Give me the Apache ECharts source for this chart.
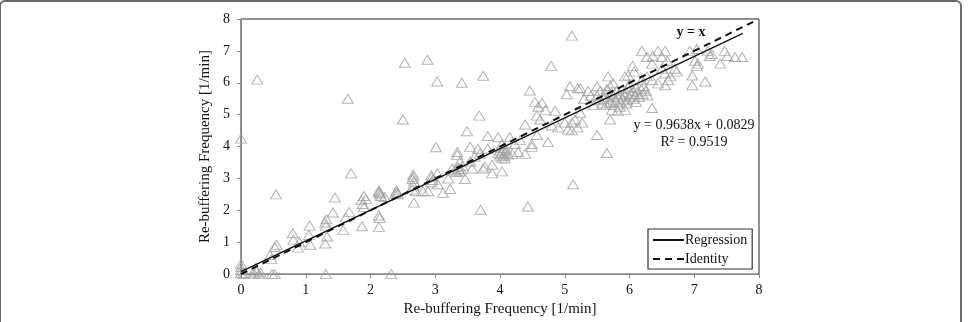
<!DOCTYPE html>
<html>
<head>
<meta charset="utf-8">
<script src="https://cdn.jsdelivr.net/npm/echarts@6/dist/echarts.min.js"></script>
<style>
  html, body { margin: 0; padding: 0; background: #fff; }
  #container { width: 974px; height: 322px; }
</style>
</head>
<body>
<div id="container"></div>
<script>
var dom = document.getElementById("container");
var myChart = echarts.init(dom);
var option;

var serif = "'Liberation Serif', 'Times New Roman', serif";

var samples = [
    [0,0.32],[0,0.22],[0,0.12],[0,0.03],[0.03,0],[0.06,0.02],[0,4.25],[0.25,6.1],
    [0.2,0.02],[0.24,0.08],[0.28,0],[0.22,0.18],[0.3,0.05],
    [0.48,0],[0.52,0],[0.45,0.6],[0.47,0.47],[0.52,0.85],[0.55,0.92],[0.54,2.5],
    [0.8,1.28],[0.81,1.08],[0.88,0.83],[0.9,1.0],
    [1.06,1.52],[1.05,1.23],[1.07,0.92],
    [1.32,1.72],[1.3,1.62],[1.31,1.52],[1.33,1.18],[1.3,0.96],[1.31,0],
    [1.45,2.4],[1.42,1.93],[1.62,1.78],[1.58,1.38],[1.67,1.95],[1.7,3.16],[1.65,5.5],
    [1.86,2.32],[1.9,2.45],[1.88,2.2],[1.9,2.1],[1.87,1.5],[1.93,2.36],
    [2.13,2.62],[2.14,2.55],[2.15,2.5],[2.16,2.45],[2.13,2.58],[2.13,1.84],[2.14,1.76],[2.13,1.48],[2.22,2.42],[2.32,0],
    [2.4,2.62],[2.41,2.56],[2.42,2.5],[2.38,2.52],[2.5,4.85],[2.53,6.63],
    [2.66,3.12],[2.66,3.05],[2.65,2.98],[2.67,2.9],[2.66,2.78],[2.65,2.65],[2.67,2.24],[2.7,2.6],
    [2.94,3.1],[2.95,3.04],[2.96,2.95],[2.94,2.88],[2.81,2.6],[2.89,2.6],[2.88,6.72],[3.01,3.98],
    [3.03,3.16],[3.04,2.82],[3.03,6.04],[3.12,2.55],[3.23,2.67],[3.2,3.0],
    [3.34,3.74],[3.26,3.31],[3.3,3.25],[3.33,3.2],[3.36,3.3],[3.38,3.22],[3.4,3.28],[3.35,3.35],
    [3.42,3.4],[3.38,3.53],[3.46,2.98],[3.54,3.53],[3.57,3.31],[3.61,3.68],[3.69,3.77],[3.77,3.37],
    [3.88,3.43],[3.88,3.16],[3.74,3.31],[3.7,2.02],[3.41,6.0],[3.74,6.22],[3.49,4.48],[3.54,3.99],
    [3.68,4.97],[3.66,3.93],[3.81,3.93],[3.34,3.83],[3.81,4.33],[3.97,4.29],
    [4.0,3.72],[4.02,3.78],[4.04,3.85],[4.06,3.7],[4.08,3.8],[4.1,3.9],[4.03,3.65],[4.07,3.62],
    [4.12,3.75],[4.0,3.88],[4.05,3.95],[3.98,3.8],
    [4.03,3.22],[4.19,3.77],[4.28,3.83],[4.39,3.77],[4.49,3.99],[4.43,2.12],[4.15,4.29],[4.03,4.08],
    [4.23,4.08],[4.31,4.2],
    [4.46,5.76],[4.79,6.53],[5.11,7.48],[5.08,5.89],[5.2,5.83],[5.03,5.64],
    [4.54,5.4],[4.65,5.37],[4.59,5.25],[4.7,5.15],[4.85,5.12],[4.57,4.97],[4.62,4.85],[4.39,4.69],
    [4.8,4.66],[4.9,4.6],[5.0,4.75],[5.11,4.75],[5.05,4.54],[5.11,4.51],[5.16,4.85],[4.57,4.36],
    [4.74,4.14],[4.49,4.08],
    [5.13,2.82],[5.65,3.8],
    [5.24,5.83],[5.5,5.89],[5.36,5.74],[5.3,5.5],[5.4,5.6],[5.45,5.3],
    [6.19,7.0],[6.44,7.0],[6.55,7.0],[6.36,6.84],[6.93,7.0],[7.04,7.06],[7.21,7.0],[7.27,6.9],
    [7.47,7.0],[7.51,6.84],[7.63,6.81],[7.74,6.81],[7.4,6.6],[7.24,6.84],[7.06,6.6],[7.01,6.69],
    [7.04,6.53],[6.05,6.53],[6.07,6.35],[6.27,6.81],[6.5,6.81],[6.58,6.69],[6.35,6.6],[6.5,6.44],
    [6.55,6.29],[6.63,6.2],[6.7,6.44],[6.73,6.35],[5.98,6.23],[5.67,6.2],[5.75,5.98],[5.93,6.2],
    [6.19,6.08],[6.27,6.2],[6.35,6.08],[6.97,6.23],[7.17,6.04],[6.97,5.92],[6.44,5.98],[6.55,5.92],
    [6.6,6.08],
    [5.5,5.6],[5.55,5.75],[5.6,5.5],[5.62,5.65],[5.65,5.8],[5.68,5.55],[5.7,5.4],[5.72,5.7],
    [5.75,5.6],[5.78,5.45],[5.8,5.75],[5.82,5.55],[5.85,5.65],[5.86,5.4],[5.88,5.8],[5.9,5.5],
    [5.92,5.6],[5.95,5.7],[5.96,5.45],[5.98,5.85],[6.0,5.55],[6.02,5.65],[6.05,5.75],[6.06,5.5],
    [6.08,5.6],[6.1,5.85],[6.12,5.7],[6.15,5.55],[6.18,5.8],[6.2,5.65],[6.22,5.9],[6.25,5.75],
    [6.28,5.6],[5.58,5.35],[5.64,5.3],[5.76,5.3],[5.95,5.35],[6.1,5.4],[5.52,5.45],[5.85,5.25],
    [6.0,5.95],[5.7,5.9],
    [5.7,5.37],[5.73,5.15],[5.82,5.12],[5.93,5.15],[6.35,5.21],[5.7,4.85],[5.24,5.06],[5.27,4.75],
    [5.2,4.6],[5.5,4.36]
];

// line end points
var regressionLine = [[0, 0.08], [7.75, 7.55]];
var identityLine = [[0, 0], [7.95, 7.95]];

var axisTicks = [0, 8, 1]; // min, max, interval
var equationText = 'y = 0.9638x + 0.0829';
var r2Text = 'R² = 0.9519';

option = {
    animation: false,
    backgroundColor: '#fff',
    grid: {
        left: 241,
        right: 215,
        top: 19,
        bottom: 42,
        show: true,
        borderColor: '#222',
        borderWidth: 1
    },
    legend: {
        data: ['Regression', 'Identity'],
        orient: 'vertical',
        left: 648,
        top: 229,
        padding: [4, 5, 3, 4],
        itemGap: 5,
        itemWidth: 31,
        itemHeight: 14,
        backgroundColor: '#fff',
        borderColor: '#333',
        borderWidth: 1.2,
        borderRadius: 0,
        itemStyle: { opacity: 0 },
        textStyle: { fontFamily: serif, fontSize: 14, color: '#111', padding: [0, 0, 0, -4] }
    },
    xAxis: {
        type: 'value',
        min: axisTicks[0],
        max: axisTicks[1],
        interval: axisTicks[2],
        name: 'Re-buffering Frequency [1/min]',
        nameLocation: 'middle',
        nameGap: 24,
        nameTextStyle: { fontFamily: serif, fontSize: 15, color: '#111' },
        splitLine: { show: false },
        axisLine: { lineStyle: { color: '#888', width: 1.2 } },
        axisTick: { show: true, length: 4, lineStyle: { color: '#888' } },
        axisLabel: { fontFamily: serif, fontSize: 14, color: '#111', margin: 9 }
    },
    yAxis: {
        type: 'value',
        min: axisTicks[0],
        max: axisTicks[1],
        interval: axisTicks[2],
        name: 'Re-buffering Frequency [1/min]',
        nameLocation: 'middle',
        nameGap: 27,
        nameTextStyle: { fontFamily: serif, fontSize: 15, color: '#111' },
        splitLine: { show: false },
        axisLine: { show: true, lineStyle: { color: '#888', width: 1.2 } },
        axisTick: { show: true, length: 4, lineStyle: { color: '#888' } },
        axisLabel: { fontFamily: serif, fontSize: 14, color: '#111', margin: 11 }
    },
    graphic: [
        {
            type: 'rect',
            silent: true,
            shape: { x: 0, y: 1, width: 961, height: 340, r: 5 },
            style: { fill: 'none', stroke: '#6a6a6a', lineWidth: 2 }
        },
        {
            type: 'text',
            x: 691, y: 32,
            style: {
                text: 'y = x', fontFamily: serif, fontSize: 14, fontWeight: 'bold',
                fill: '#111', align: 'center', verticalAlign: 'middle'
            }
        },
        {
            type: 'text',
            x: 694, y: 125,
            style: {
                text: equationText, fontFamily: serif, fontSize: 14,
                fill: '#111', align: 'center', verticalAlign: 'middle'
            }
        },
        {
            type: 'text',
            x: 694, y: 142,
            style: {
                text: r2Text, fontFamily: serif, fontSize: 14,
                fill: '#111', align: 'center', verticalAlign: 'middle'
            }
        }
    ],
    series: [
        {
            name: 'Samples',
            type: 'scatter',
            symbol: 'triangle',
            symbolSize: [11, 9],
            itemStyle: {
                color: 'rgba(255,255,255,0)',
                borderColor: '#a0a0a0',
                borderWidth: 1
            },
            data: samples,
            z: 2
        },
        {
            name: 'Regression',
            type: 'line',
            showSymbol: false,
            symbol: 'none',
            lineStyle: { color: '#111', width: 1.3, type: 'solid' },
            itemStyle: { color: '#111' },
            data: regressionLine,
            z: 3
        },
        {
            name: 'Identity',
            type: 'line',
            showSymbol: false,
            symbol: 'none',
            lineStyle: { color: '#111', width: 2, type: [7, 5] },
            itemStyle: { color: '#111' },
            data: identityLine,
            z: 3
        }
    ]
};

if (option && typeof option === 'object') {
    myChart.setOption(option);
}
</script>
</body>
</html>
